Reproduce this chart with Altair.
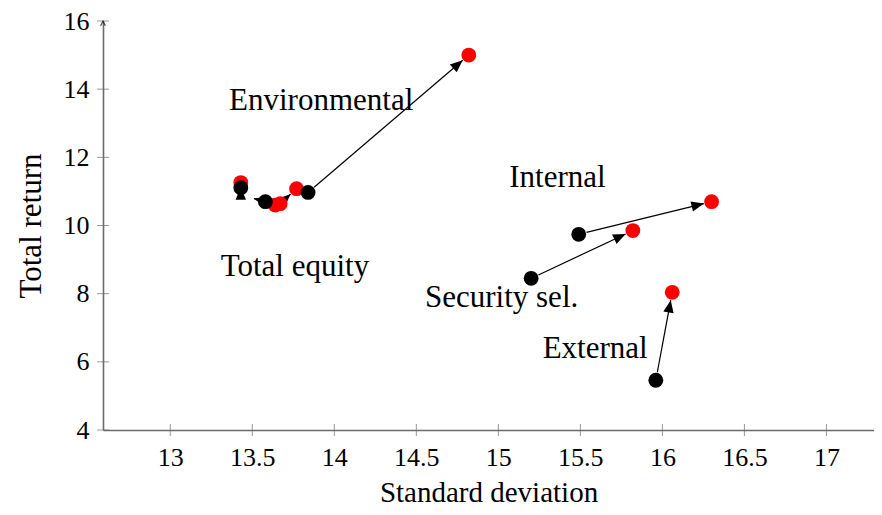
import math
import altair as alt
import pandas as pd

# ---- data ----
red_x = [13.43, 13.64, 13.67, 13.77, 14.82, 16.30, 15.82, 16.06]
red_y = [11.26, 10.60, 10.64, 11.08, 15.00, 10.70, 9.85, 8.04]
black_x = [13.43, 13.58, 13.84, 15.49, 15.20, 15.96]
black_y = [11.11, 10.70, 10.97, 9.74, 8.45, 5.46]

arrow_x1 = [13.84, 15.49, 15.20, 15.96, 13.43, 13.58, 13.67]
arrow_y1 = [10.97, 9.74, 8.45, 5.46, 10.90, 10.70, 10.64]
arrow_x2 = [14.82, 16.30, 15.82, 16.06, 13.43, 13.51, 13.77]
arrow_y2 = [15.00, 10.70, 9.85, 8.04, 11.12, 10.79, 11.08]
gap_start = [8, 8, 8, 8, 0, 0, 0]   # px trimmed at the tail (dot radius)
gap_end = [8, 8, 8, 8, 0, 0, 8]     # px trimmed at the head (dot radius)

label_text = ["Environmental", "Internal", "Total equity", "Security sel.", "External"]
label_x = [13.92, 15.36, 13.76, 15.02, 15.59]
label_y = [13.66, 11.38, 8.77, 7.86, 6.37]

x_ticks = [13, 13.5, 14, 14.5, 15, 15.5, 16, 16.5, 17]
y_ticks = [4, 6, 8, 10, 12, 14, 16]

X_DOMAIN = [12.59, 17.29]
Y_DOMAIN = [4, 16]
W, H = 771, 409
FONT = "Liberation Serif"
AXIS_GRAY = "#6b6b6b"

kx = W / (X_DOMAIN[1] - X_DOMAIN[0])
ky = H / (Y_DOMAIN[1] - Y_DOMAIN[0])

rows = []
for x1, y1, x2, y2, gs, ge in zip(arrow_x1, arrow_y1, arrow_x2, arrow_y2, gap_start, gap_end):
    dx = (x2 - x1) * kx
    dy = (y2 - y1) * ky
    L = math.hypot(dx, dy)
    ux, uy = dx / L, dy / L
    rows.append(dict(
        sx=x1 + ux * gs / kx, sy=y1 + uy * gs / ky,
        ex=x2 - ux * ge / kx, ey=y2 - uy * ge / ky,
        angle=math.degrees(math.atan2(dx, dy)) % 360,
    ))
arrows = pd.DataFrame(rows)

red = pd.DataFrame({"x": red_x, "y": red_y})
black = pd.DataFrame({"x": black_x, "y": black_y})
labels = pd.DataFrame({"t": label_text, "x": label_x, "y": label_y})
xt = pd.DataFrame({"x": x_ticks, "y": [Y_DOMAIN[0]] * len(x_ticks)})
yt = pd.DataFrame({"y": y_ticks, "x": [X_DOMAIN[0]] * len(y_ticks)})
ytop = pd.DataFrame({"x": [X_DOMAIN[0]], "y": [Y_DOMAIN[1]]})

xs = alt.Scale(domain=X_DOMAIN, nice=False, zero=False)
ys = alt.Scale(domain=Y_DOMAIN, nice=False, zero=False)


def X(field, **kw):
    return alt.X(field, type="quantitative", scale=xs, **kw)


def Y(field, **kw):
    return alt.Y(field, type="quantitative", scale=ys, **kw)


base_axes = alt.Chart(red).mark_point(opacity=0).encode(
    x=X("x", axis=alt.Axis(values=x_ticks, format="~g", title="Standard deviation",
                           labelPadding=14, titlePadding=8, ticks=False,
                           labelFlush=False, labelOverlap=False, titleFontSize=29)),
    y=Y("y", axis=alt.Axis(values=y_ticks, format="d", title="Total return",
                           labelPadding=14, titlePadding=16, ticks=False,
                           labelFlush=False, labelOverlap=False)),
)

x_tick_marks = alt.Chart(xt).mark_tick(orient="vertical", size=12, thickness=1,
                                       color=AXIS_GRAY).encode(x=X("x"), y=Y("y"))
y_tick_marks = alt.Chart(yt).mark_tick(orient="horizontal", size=12, thickness=1,
                                       color=AXIS_GRAY).encode(x=X("x"), y=Y("y"))
y_arrow = alt.Chart(ytop).mark_point(shape="M-0.45,0.9L0,0L0.45,0.9", filled=False,
                                     size=110, strokeWidth=1.2, color="black").encode(
    x=X("x"), y=Y("y"))

shafts = alt.Chart(arrows).mark_rule(color="black", strokeWidth=1.2).encode(
    x=X("sx"), y=Y("sy"), x2="ex", y2="ey")
heads = alt.Chart(arrows).mark_point(shape="M0,0L0.42,1L-0.42,1Z", filled=True, size=620,
                                     color="black", opacity=1, strokeWidth=0).encode(
    x=X("ex"), y=Y("ey"), angle=alt.Angle("angle:Q", scale=None))

red_pts = alt.Chart(red).mark_circle(color="#ff0000", size=220, opacity=1).encode(
    x=X("x"), y=Y("y"))
black_pts = alt.Chart(black).mark_circle(color="black", size=220, opacity=1).encode(
    x=X("x"), y=Y("y"))

texts = alt.Chart(labels).mark_text(font=FONT, fontSize=31, color="black",
                                    align="center", baseline="middle").encode(
    x=X("x"), y=Y("y"), text="t:N")

chart = alt.layer(
    base_axes, x_tick_marks, y_tick_marks, y_arrow, shafts, heads, red_pts, black_pts, texts
).properties(
    width=W, height=H,
    autosize=alt.AutoSizeParams(type="none"),
    padding={"left": 95, "top": 13, "right": 0, "bottom": 77},
).configure_view(stroke=None).configure_axis(
    labelFont=FONT, labelFontSize=26, labelColor="black",
    titleFont=FONT, titleFontSize=31, titleFontWeight="normal", titleColor="black",
    grid=False, domainColor=AXIS_GRAY, domainWidth=1.6,
)

chart.save("out.html", embed_options={"renderer": "svg", "actions": False})
